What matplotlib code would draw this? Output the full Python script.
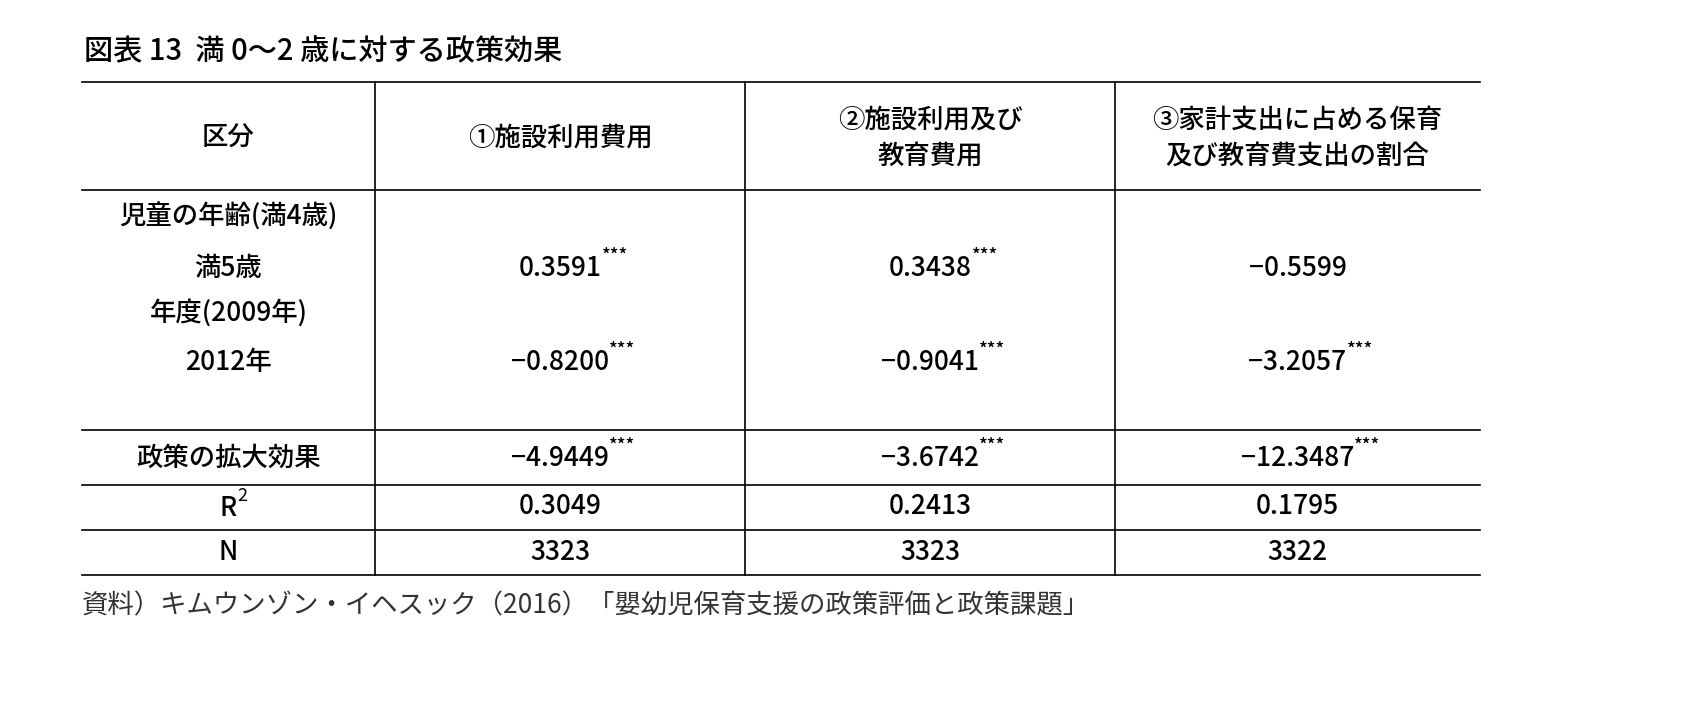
import matplotlib
matplotlib.use("Agg")
import matplotlib.pyplot as plt
from matplotlib.lines import Line2D

plt.rcParams['font.family'] = ['Noto Sans CJK JP', 'DejaVu Sans']

title = "図表 13  満 0～2 歳に対する政策効果"
headers = ["区分", "①施設利用費用", "②施設利用及び\n教育費用", "③家計支出に占める保育\n及び教育費支出の割合"]
row_labels = ["児童の年齢(満4歳)", "満5歳", "年度(2009年)", "2012年"]
age5 = ["0.3591", "0.3438", "−0.5599"]
age5_sig = ["***", "***", ""]
y2012 = ["−0.8200", "−0.9041", "−3.2057"]
y2012_sig = ["***", "***", "***"]
policy_label = "政策の拡大効果"
policy = ["−4.9449", "−3.6742", "−12.3487"]
policy_sig = ["***", "***", "***"]
r2 = ["0.3049", "0.2413", "0.1795"]
n = ["3323", "3323", "3322"]
source = "資料）キムウンゾン・イヘスック（2016）「嬰幼児保育支援の政策評価と政策課題」"

W, H = 1696, 713
fig = plt.figure(figsize=(W/100, H/100), dpi=100)
ax = fig.add_axes([0, 0, 1, 1])
ax.set_xlim(0, W); ax.set_ylim(H, 0); ax.axis('off')

fs = 19
ax.text(84, 52, title, fontsize=21, va='center', ha='left', fontweight='medium')

xs = [82, 375, 745, 1115, 1480]
hl = [82, 190, 430, 485, 530, 575]
for y in hl:
    ax.add_line(Line2D([xs[0], xs[-1]], [y, y], color='black', lw=1.2))
for x in xs[1:-1]:
    ax.add_line(Line2D([x, x], [hl[0], hl[-1]], color='black', lw=1.2))

cx = [(xs[i]+xs[i+1])/2 for i in range(4)]

def cell(x, y, s, sig=""):
    t = ax.text(x, y, s, fontsize=fs, ha='center', va='center', linespacing=1.45,
                fontweight='medium')
    if sig:
        ax.annotate(sig, xy=(1.0, 0.95), xycoords=t, fontsize=13, ha='left',
                    va='center', fontweight='medium')

for i, h in enumerate(headers):
    cell(cx[i], 138, h)

ry = [217, 268, 313, 362]
for lab, y in zip(row_labels, ry):
    cell(cx[0], y, lab)
for j in range(3):
    cell(cx[j+1], 268, age5[j], age5_sig[j])
    cell(cx[j+1], 362, y2012[j], y2012_sig[j])

cell(cx[0], 458, policy_label)
t = ax.text(cx[0], 508, "R", fontsize=fs, ha='center', va='center', fontweight='medium')
ax.annotate("2", xy=(1.0, 0.95), xycoords=t, fontsize=13, ha='left', va='center')
cell(cx[0], 553, "N")
for j in range(3):
    cell(cx[j+1], 458, policy[j], policy_sig[j])
    cell(cx[j+1], 506, r2[j])
    cell(cx[j+1], 553, n[j])

ax.text(82, 606, source, fontsize=19, ha='left', va='center', color='#333333')

fig.savefig("out.png", dpi=100)
